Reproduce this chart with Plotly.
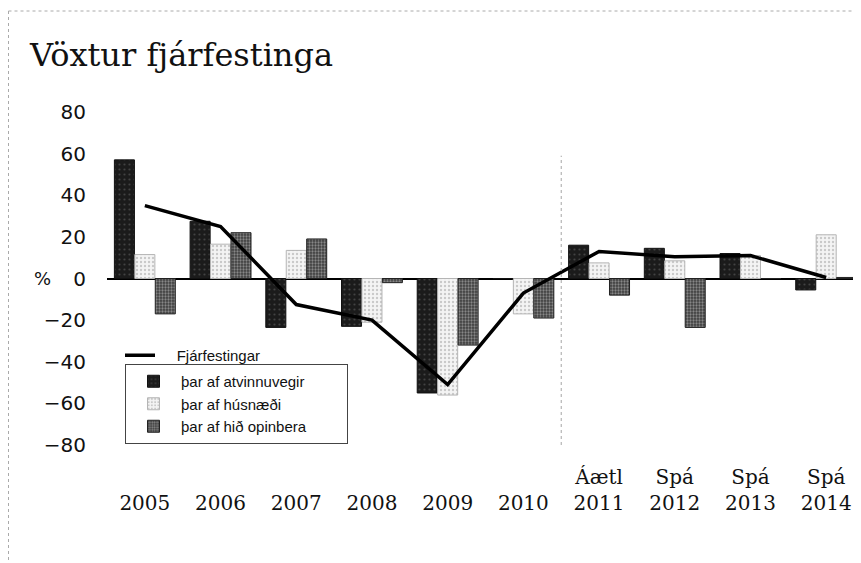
import plotly.graph_objects as go

years = ["2005", "2006", "2007", "2008", "2009", "2010", "2011", "2012", "2013", "2014"]
prefix = ["", "", "", "", "", "", "Áætl", "Spá", "Spá", "Spá"]
total = [35, 25, -12.5, -20, -51, -7, 13, 10.5, 11, 0.5]
atvinnuvegir = [57, 27.5, -23.5, -23, -55, 0, 16, 14.5, 12, -5.5]
husnaedi = [11.5, 16.5, 13.5, -21, -56, -17, 7.5, 8.5, 11, 21]
opinbera = [-17, 22, 19, -2, -32, -19, -8, -23.5, 0, 0.5]

name_total = "Fjárfestingar"
name_atv = "þar af atvinnuvegir"
name_hus = "þar af húsnæði"
name_opi = "þar af hið opinbera"

NB = "\u00a0"
xs = list(range(len(years)))
ticktext = [(p if p else NB) + "<br>" + y for p, y in zip(prefix, years)]

# The page body has an 8px margin, so work in screen pixels and shift.
OFF = 8
W, H = 861, 563
L, T, B, R = 107 - OFF, 112 - OFF, 445 - OFF, 861 - OFF
PW, PH = R - L, B - T


def px_x(s):
    return (s - OFF - L) / PW


def px_y(s):
    return (B - (s - OFF)) / PH


fig = go.Figure()
fig.add_trace(go.Bar(
    x=xs, y=atvinnuvegir, name=name_atv + NB * 9, legend="legend2",
    marker=dict(color="#1b1b1b", line=dict(color="#111", width=1),
                pattern=dict(shape=".", fgcolor="#6a6a6a", bgcolor="#1b1b1b", size=5, solidity=0.15)),
))
fig.add_trace(go.Bar(
    x=xs, y=husnaedi, name=name_hus, legend="legend2",
    marker=dict(color="#eeeeee", line=dict(color="#b5b5b5", width=1),
                pattern=dict(shape=".", fgcolor="#a0a0a0", bgcolor="#f4f4f4", size=4, solidity=0.28)),
))
fig.add_trace(go.Bar(
    x=xs, y=opinbera, name=name_opi, legend="legend2",
    marker=dict(color="#5e5e5e", line=dict(color="#222", width=1),
                pattern=dict(shape=".", fgcolor="#cfcfcf", bgcolor="#3e3e3e", size=3, solidity=0.45)),
))
fig.add_trace(go.Scatter(
    x=xs, y=total, name=NB * 4 + name_total, mode="lines", legend="legend",
    line=dict(color="#000000", width=3.5),
))

fig.update_layout(
    width=W, height=H,
    margin=dict(l=L, r=W - R, t=T, b=H - B, pad=0),
    paper_bgcolor="white", plot_bgcolor="white",
    barmode="group", bargap=0.19, bargroupgap=0.02,
    title=dict(text="Vöxtur fjárfestinga", x=(30 - OFF) / W, xanchor="left", xref="container",
               y=1 - (55 - OFF) / H, yanchor="middle", yref="container",
               font=dict(family="DejaVu Serif", size=32, color="#111")),
    xaxis=dict(range=[-0.5, 9.46], tickmode="array", tickvals=xs, ticktext=ticktext,
               showgrid=False, showline=False, zeroline=False, ticks="",
               ticklabelstandoff=18,
               tickfont=dict(family="DejaVu Serif", size=20, color="#111")),
    yaxis=dict(range=[-80, 80], tickvals=[-80, -60, -40, -20, 0, 20, 40, 60, 80],
               showgrid=False, showline=False, zeroline=True, zerolinecolor="#000",
               zerolinewidth=1.5, ticks="", ticklabelstandoff=20,
               tickfont=dict(family="DejaVu Sans", size=20, color="#111")),
    legend=dict(x=px_x(120), xanchor="left", y=px_y(339), yanchor="top",
                bgcolor="rgba(0,0,0,0)", borderwidth=0, itemwidth=30,
                font=dict(family="Liberation Sans", size=15, color="#111")),
    legend2=dict(x=px_x(125), xanchor="left", y=px_y(364), yanchor="top",
                 bgcolor="white", bordercolor="#444", borderwidth=1,
                 tracegroupgap=0, itemwidth=45,
                 font=dict(family="Liberation Sans", size=15, color="#111")),
    showlegend=True,
)

# separator between actuals and forecasts
fig.add_shape(type="line", xref="x", yref="y", x0=5.5, x1=5.5, y0=-80, y1=59,
              line=dict(color="#a5a5a5", width=1, dash="dot"))
# scanned page frame
fig.add_shape(type="line", xref="paper", yref="paper", x0=px_x(8.5), x1=1.02, y0=px_y(11), y1=px_y(11),
              line=dict(color="#aaaaaa", width=1, dash="dot"))
fig.add_shape(type="line", xref="paper", yref="paper", x0=px_x(8.5), x1=px_x(8.5), y0=px_y(11), y1=px_y(575),
              line=dict(color="#aaaaaa", width=1, dash="dot"))

fig.add_annotation(text="%", xref="paper", yref="y", x=px_x(42), y=0, xanchor="center",
                   yanchor="middle", showarrow=False,
                   font=dict(family="DejaVu Sans", size=18, color="#111"))

fig.write_html("out.html")
